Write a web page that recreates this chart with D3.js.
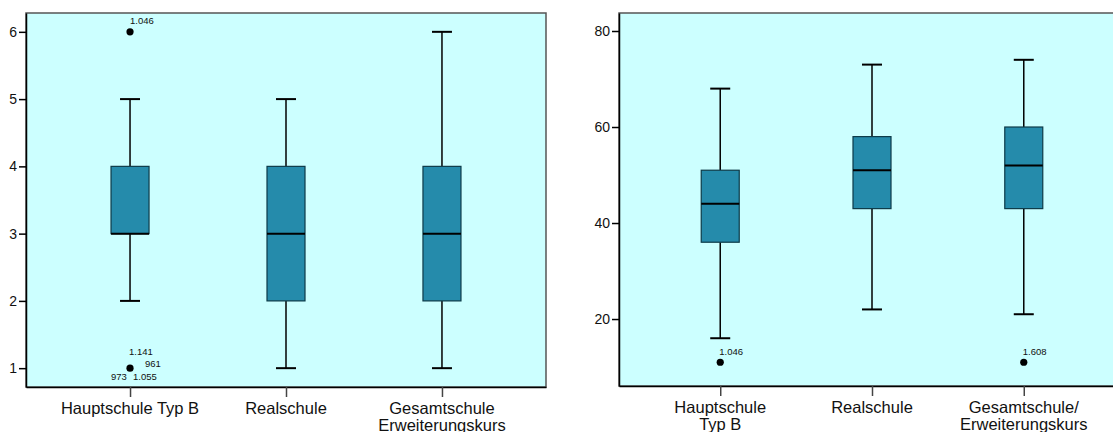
<!DOCTYPE html>
<html>
<head>
<meta charset="utf-8">
<script src="https://cdn.jsdelivr.net/npm/d3@7"></script>
<style>
  html, body { margin: 0; padding: 0; background: #fff; }
  svg { display: block; font-family: "Liberation Sans", Arial, sans-serif; }
</style>
</head>
<body>
<svg id="chart" width="1113" height="432"></svg>
<script>
// ---------- DATA ----------
const categoriesLeft = ["Hauptschule Typ B", "Realschule", "Gesamtschule\nErweiterungskurs"];
const leftWhiskerLow  = [2, 1, 1];
const leftQ1          = [3, 2, 2];
const leftMedian      = [3, 3, 3];
const leftQ3          = [4, 4, 4];
const leftWhiskerHigh = [5, 5, 6];
const leftTicks = [1, 2, 3, 4, 5, 6];
// outliers: [category index, value]
const leftOutliers = [[0, 6], [0, 1]];
// outlier labels: [category index, value, label]
const leftOutlierLabels = [
  [0, 6, "1.046"],
  [0, 1, "1.141"],
  [0, 1, "961"],
  [0, 1, "973"],
  [0, 1, "1.055"]
];

const categoriesRight = ["Hauptschule\nTyp B", "Realschule", "Gesamtschule/\nErweiterungskurs"];
const rightWhiskerLow  = [16, 22, 21];
const rightQ1          = [36, 43, 43];
const rightMedian      = [44, 51, 52];
const rightQ3          = [51, 58, 60];
const rightWhiskerHigh = [68, 73, 74];
const rightTicks = [20, 40, 60, 80];
const rightOutliers = [[0, 11], [2, 11]];
const rightOutlierLabels = [[0, 11, "1.046"], [2, 11, "1.608"]];

// ---------- LAYOUT ----------
const svg = d3.select("#chart");
const BG = "#ccffff";
const BOX = "#258bab";

// label offsets relative to point (dx, dy) for each outlier label by index
const leftLabelOffsets = [[0, -8], [-1, -13], [15, -1], [-19, 12], [3, 12]];
const rightLabelOffsets = [[-1, -7], [-1, -7]];

function drawPanel(cfg) {
  const g = svg.append("g");
  const x = d3.scalePoint().domain(d3.range(cfg.categories.length))
    .range([cfg.x0, cfg.x1]).padding(0.667);
  const y = d3.scaleLinear().domain(cfg.domain).range([cfg.y1, cfg.y0]);

  // background frame
  g.append("rect")
    .attr("x", cfg.x0).attr("y", cfg.y0)
    .attr("width", cfg.x1 - cfg.x0).attr("height", cfg.y1 - cfg.y0)
    .attr("fill", BG).attr("stroke", "#555").attr("stroke-width", 1.5);

  // axes
  const yAxis = d3.axisLeft(y).tickValues(cfg.ticks).tickSizeInner(7).tickSizeOuter(0)
    .tickPadding(2).tickFormat(d3.format("d"));
  const ya = g.append("g").attr("transform", `translate(${cfg.x0},0)`).call(yAxis);
  ya.select(".domain").attr("stroke", "#000").attr("stroke-width", 1.5);
  ya.selectAll(".tick line").attr("stroke", "#000").attr("stroke-width", 1.5);
  ya.selectAll(".tick text").attr("font-size", 14).attr("fill", "#111")
    .attr("font-family", "Liberation Sans, Arial, sans-serif");

  const xAxis = d3.axisBottom(x).tickSizeInner(10).tickSizeOuter(0).tickFormat(() => "");
  const xa = g.append("g").attr("transform", `translate(0,${cfg.y1})`).call(xAxis);
  xa.select(".domain").attr("stroke", "#000").attr("stroke-width", 1.5);
  xa.selectAll(".tick line").attr("stroke", "#444").attr("stroke-width", 1.5);

  // category labels (multi-line)
  cfg.categories.forEach((c, i) => {
    const t = g.append("text")
      .attr("x", x(i)).attr("y", cfg.y1 + 27)
      .attr("text-anchor", "middle").attr("font-size", 16.5).attr("fill", "#111");
    c.split("\n").forEach((line, k) => {
      t.append("tspan").attr("x", x(i)).attr("dy", k === 0 ? 0 : 17).text(line);
    });
  });

  const bw = 38, cw = 20;
  const idx = d3.range(cfg.categories.length);
  // whiskers
  g.selectAll(".wl").data(idx).join("line")
    .attr("x1", i => x(i)).attr("x2", i => x(i))
    .attr("y1", i => y(cfg.wl[i])).attr("y2", i => y(cfg.q1[i]))
    .attr("stroke", "#000").attr("stroke-width", 1.5);
  g.selectAll(".wh").data(idx).join("line")
    .attr("x1", i => x(i)).attr("x2", i => x(i))
    .attr("y1", i => y(cfg.wh[i])).attr("y2", i => y(cfg.q3[i]))
    .attr("stroke", "#000").attr("stroke-width", 1.5);
  // caps
  [cfg.wl, cfg.wh].forEach(arr => {
    g.selectAll(null).data(idx).join("line")
      .attr("x1", i => x(i) - cw / 2).attr("x2", i => x(i) + cw / 2)
      .attr("y1", i => y(arr[i])).attr("y2", i => y(arr[i]))
      .attr("stroke", "#000").attr("stroke-width", 2);
  });
  // boxes
  g.selectAll(null).data(idx).join("rect")
    .attr("x", i => x(i) - bw / 2).attr("width", bw)
    .attr("y", i => y(cfg.q3[i])).attr("height", i => y(cfg.q1[i]) - y(cfg.q3[i]))
    .attr("fill", BOX).attr("stroke", "#0d3a48").attr("stroke-width", 1.2);
  // medians
  g.selectAll(null).data(idx).join("line")
    .attr("x1", i => x(i) - bw / 2).attr("x2", i => x(i) + bw / 2)
    .attr("y1", i => y(cfg.med[i])).attr("y2", i => y(cfg.med[i]))
    .attr("stroke", "#000").attr("stroke-width", 2);
  // outliers
  g.selectAll(null).data(cfg.outliers).join("circle")
    .attr("cx", d => x(d[0])).attr("cy", d => y(d[1])).attr("r", 3.6)
    .attr("fill", "#000");
  g.selectAll(null).data(cfg.outlierLabels).join("text")
    .attr("x", (d, k) => x(d[0]) + cfg.labelOffsets[k][0])
    .attr("y", (d, k) => y(d[1]) + cfg.labelOffsets[k][1])
    .attr("font-size", 9.5).attr("fill", "#111")
    .text(d => d[2]);
}

drawPanel({
  categories: categoriesLeft, wl: leftWhiskerLow, q1: leftQ1, med: leftMedian,
  q3: leftQ3, wh: leftWhiskerHigh, ticks: leftTicks, outliers: leftOutliers,
  outlierLabels: leftOutlierLabels, labelOffsets: leftLabelOffsets,
  x0: 26, x1: 546, y0: 13, y1: 387, domain: [0.72, 6.28]
});

drawPanel({
  categories: categoriesRight, wl: rightWhiskerLow, q1: rightQ1, med: rightMedian,
  q3: rightQ3, wh: rightWhiskerHigh, ticks: rightTicks, outliers: rightOutliers,
  outlierLabels: rightOutlierLabels, labelOffsets: rightLabelOffsets,
  x0: 619, x1: 1125, y0: 13, y1: 386, domain: [6.05, 83.75]
});
</script>
</body>
</html>
